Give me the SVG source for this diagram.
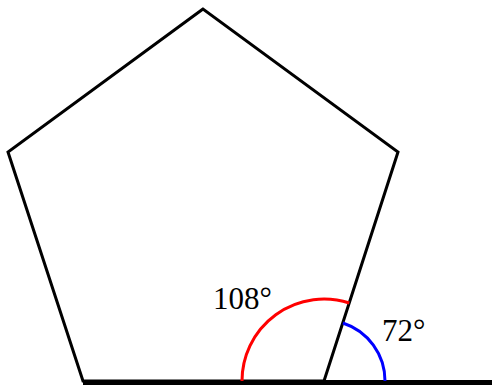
<svg xmlns="http://www.w3.org/2000/svg" width="492" height="387" viewBox="0 0 492 387">
<style>
.edge{fill:none;stroke:#000;stroke-width:3;stroke-linejoin:miter}
.base{fill:none;stroke:#000;stroke-width:5}
.arc{fill:none;stroke-width:3}
.lbl{font-family:"Liberation Serif","Times New Roman",serif;font-size:31px;fill:#000}
</style>
<rect width="492" height="387" fill="#fff"/>
<g id="pentagon">
<polygon class="edge" points="203,9 8,152 83,381 324,381 398,152"/>
</g>
<g id="connectors">
<line class="base" x1="83" y1="382.5" x2="492" y2="382.5"/>
</g>
<g id="angle108">
<path class="arc" stroke="#ff0000" d="M242,381 A82,82 0 0 1 349.3,303"/>
<text class="lbl" x="213" y="309">108°</text>
</g>
<g id="angle72">
<path class="arc" stroke="#0000ff" d="M342.9,323 A61,61 0 0 1 385,381"/>
<text class="lbl" x="382" y="341">72°</text>
</g>
</svg>
